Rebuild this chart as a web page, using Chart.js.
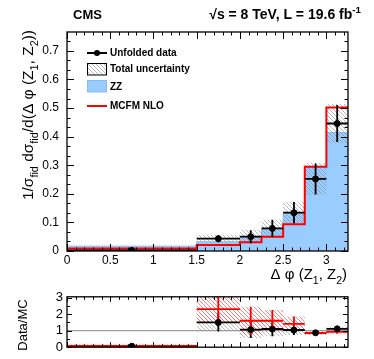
<!DOCTYPE html>
<html lang="en">
<head>
<meta charset="UTF-8" />
<title>CMS ZZ delta phi</title>
<script src="https://cdn.jsdelivr.net/npm/chart.js@4"></script>
<style>
  * { margin: 0; padding: 0; box-sizing: border-box; }
  body { background: #fff; width: 374px; height: 359px; position: relative; overflow: hidden; }
  #mainChart { position: absolute; left: 0; top: 0; }
  #ratioChart { position: absolute; left: 0; top: 285px; }
</style>
</head>
<body>
<canvas id="mainChart" width="374" height="285"></canvas>
<canvas id="ratioChart" width="374" height="74"></canvas>
<script>
// bins in delta phi(Z1,Z2)
const binEdges = [0, 1.5, 2.0, 2.25, 2.5, 2.75, 3.0, 3.25];

// main panel
const dataValues = [0.002, 0.043, 0.050, 0.079, 0.134, 0.252, 0.446];
const dataErrors = [0.001, 0.012, 0.023, 0.030, 0.037, 0.054, 0.065];
const totalUnc   = [0.002, 0.014, 0.024, 0.031, 0.038, 0.056, 0.068];
const zzValues   = [0.017, 0.032, 0.048, 0.076, 0.132, 0.295, 0.414];
const mcfmValues = [0.009, 0.021, 0.031, 0.050, 0.094, 0.295, 0.502];

// ratio panel
const ratioZZ       = [0.06, 1.50, 1.06, 1.10, 1.04, 0.87, 1.11];
const ratioZZErr    = [0.05, 0.55, 0.50, 0.44, 0.30, 0.10, 0.12];
const ratioMCFM     = [0.08, 2.30, 1.60, 1.60, 1.41, 0.86, 0.93];
const ratioMCFMErr  = [0.08, 0.80, 0.85, 0.65, 0.45, 0.10, 0.12];

const xTicks = [0, 0.5, 1, 1.5, 2, 2.5, 3];
const yTicks = [0, 0.1, 0.2, 0.3, 0.4, 0.5, 0.6, 0.7];
const ratioTicks = [0, 1, 2, 3];

const FONT = '"Liberation Sans", Arial, Helvetica, sans-serif';
Chart.defaults.font.family = FONT;
Chart.defaults.font.size = 12;
Chart.defaults.color = '#000';

// helpers
const centers = binEdges.slice(0, -1).map((e, i) => (e + binEdges[i + 1]) / 2);
function steps(vals) {
  const pts = [];
  vals.forEach((v, i) => { pts.push({ x: binEdges[i], y: v }, { x: binEdges[i + 1], y: v }); });
  return pts;
}
function hatch(color, width) {
  const c = document.createElement('canvas');
  c.width = c.height = 4;
  const g = c.getContext('2d');
  g.strokeStyle = color;
  g.lineWidth = width;
  g.beginPath();
  g.moveTo(-1, -1); g.lineTo(5, 5);
  g.moveTo(-1, 3); g.lineTo(1, 5);
  g.moveTo(3, -1); g.lineTo(5, 1);
  g.stroke();
  return g.createPattern(c, 'repeat');
}
const grayHatch = hatch('#8c8c8c', 0.6);
const redHatch = hatch('#ff5c5c', 0.75);

function rich(ctx, parts, x, y, size, weight, align) {
  let w = 0;
  for (const [t, m] of parts) {
    ctx.font = `${weight} ${m ? size * 0.7 : size}px ${FONT}`;
    w += ctx.measureText(t).width;
  }
  let cx = align === 'right' ? x - w : align === 'center' ? x - w / 2 : x;
  ctx.textAlign = 'left';
  ctx.textBaseline = 'alphabetic';
  for (const [t, m] of parts) {
    ctx.font = `${weight} ${m ? size * 0.7 : size}px ${FONT}`;
    const dy = m === -1 ? size * 0.3 : m === 1 ? -size * 0.42 : 0;
    ctx.fillText(t, cx, y + dy);
    cx += ctx.measureText(t).width;
  }
}

// frame with ROOT-like inward ticks
function frame(cfg) {
  return {
    id: 'frame',
    afterDraw(chart) {
      const { ctx, chartArea: a, scales } = chart;
      const xs = scales.x, ys = scales.y;
      ctx.save();
      ctx.strokeStyle = '#000';
      ctx.lineWidth = 1;
      ctx.beginPath();
      const tick = (v, len, isX) => {
        if (isX) {
          const px = Math.round(xs.getPixelForValue(v)) + 0.5;
          ctx.moveTo(px, a.bottom); ctx.lineTo(px, a.bottom - len);
          ctx.moveTo(px, a.top); ctx.lineTo(px, a.top + len);
        } else {
          const py = Math.round(ys.getPixelForValue(v)) + 0.5;
          ctx.moveTo(a.left, py); ctx.lineTo(a.left + len, py);
          ctx.moveTo(a.right, py); ctx.lineTo(a.right - len, py);
        }
      };
      for (let v = xs.min; v <= xs.max + 1e-9; v += cfg.xMinor) tick(v, cfg.minor, true);
      cfg.xMajor.forEach(v => tick(v, cfg.major, true));
      for (let v = ys.min; v <= ys.max + 1e-9; v += cfg.yMinor) tick(v, cfg.minor, false);
      cfg.yMajor.forEach(v => tick(v, cfg.major, false));
      ctx.stroke();
      ctx.lineWidth = 1.3;
      ctx.strokeRect(a.left, a.top, a.right - a.left, a.bottom - a.top);
      ctx.restore();
    }
  };
}

// error bars, drawn just before the marker dataset
function errorBars(sets, markerIndex) {
  return {
    id: 'errorBars',
    beforeDatasetDraw(chart, args) {
      if (args.index !== markerIndex) return;
      const { ctx, chartArea: a, scales: { x, y } } = chart;
      ctx.save();
      ctx.beginPath();
      ctx.rect(a.left, a.top, a.right - a.left, a.bottom - a.top);
      ctx.clip();
      for (const s of sets) {
        ctx.strokeStyle = s.color;
        ctx.lineWidth = 1.8;
        ctx.beginPath();
        s.values.forEach((v, i) => {
          const py = y.getPixelForValue(v);
          ctx.moveTo(x.getPixelForValue(binEdges[i]), py);
          ctx.lineTo(x.getPixelForValue(binEdges[i + 1]), py);
          const px = x.getPixelForValue(centers[i]);
          ctx.moveTo(px, y.getPixelForValue(v - s.errors[i]));
          ctx.lineTo(px, y.getPixelForValue(v + s.errors[i]));
        });
        ctx.stroke();
      }
      ctx.restore();
    }
  };
}

const mainTexts = {
  id: 'mainTexts',
  afterDraw(chart) {
    const ctx = chart.ctx;
    ctx.save();
    ctx.fillStyle = '#000';
    // header
    rich(ctx, [['CMS', 0]], 73, 19, 13, 'bold', 'left');
    rich(ctx, [['\u221As = 8 TeV, L = 19.6 fb', 0], ['-1', 1]], 361, 19, 14, 'bold', 'right');
    // x title
    rich(ctx, [['\u0394 \u03C6 (Z', 0], ['1', -1], [', Z', 0], ['2', -1], [')', 0]], 347, 279, 15, 'normal', 'right');
    // y title
    ctx.save();
    ctx.translate(33, 30);
    ctx.rotate(-Math.PI / 2);
    rich(ctx, [['1/\u03C3', 0], ['fid', -1], [' d\u03C3', 0], ['fid', -1], ['/d(\u0394 \u03C6 (Z', 0],
               ['1', -1], [', Z', 0], ['2', -1], ['))', 0]], 0, 0, 15.5, 'normal', 'right');
    ctx.restore();

    // legend
    ctx.font = `bold 10px ${FONT}`;
    ctx.textBaseline = 'middle';
    ctx.textAlign = 'left';
    ctx.strokeStyle = '#000';
    ctx.lineWidth = 2;
    ctx.beginPath(); ctx.moveTo(87, 53); ctx.lineTo(107, 53); ctx.stroke();
    ctx.beginPath(); ctx.arc(97, 53, 3, 0, Math.PI * 2); ctx.fill();
    ctx.fillText('Unfolded data', 110, 53);

    ctx.fillStyle = grayHatch;
    ctx.fillRect(87, 63.5, 19, 11.5);
    ctx.lineWidth = 1;
    ctx.strokeRect(87.5, 63.5, 19, 11.5);
    ctx.fillStyle = '#000';
    ctx.fillText('Total uncertainty', 110, 69.5);

    ctx.fillStyle = '#99ccff';
    ctx.fillRect(87, 80.5, 19, 11.5);
    ctx.strokeStyle = '#86bdf2';
    ctx.strokeRect(87.5, 80.5, 19, 11.5);
    ctx.fillStyle = '#000';
    ctx.fillText('ZZ', 110, 87);

    ctx.strokeStyle = '#ff0000';
    ctx.lineWidth = 2;
    ctx.beginPath(); ctx.moveTo(87, 106); ctx.lineTo(107, 106); ctx.stroke();
    ctx.fillText('MCFM NLO', 110, 106);
    ctx.restore();
  }
};

const noLine = 'rgba(0,0,0,0)';

new Chart(document.getElementById('mainChart'), {
  type: 'line',
  data: {
    datasets: [
      { data: centers.map((c, i) => ({ x: c, y: dataValues[i] })), showLine: false,
        pointRadius: 3, pointBackgroundColor: '#000', pointBorderColor: '#000', order: 0 },
      { data: steps(mcfmValues), borderColor: '#ff0000', borderWidth: 2, pointRadius: 0,
        fill: false, order: 1 },
      { data: steps(dataValues.map((v, i) => v + totalUnc[i])), borderColor: noLine, borderWidth: 1,
        pointRadius: 0, fill: '+1', backgroundColor: grayHatch, order: 2 },
      { data: steps(dataValues.map((v, i) => Math.max(0, v - totalUnc[i]))), borderColor: noLine,
        borderWidth: 1, pointRadius: 0, fill: false, order: 3 },
      { data: steps(zzValues), borderColor: '#86bdf2', borderWidth: 1, pointRadius: 0,
        fill: 'origin', backgroundColor: '#99ccff', order: 4 }
    ]
  },
  options: {
    responsive: false,
    animation: false,
    layout: { padding: { top: 32, right: 26, left: 0, bottom: 0 } },
    plugins: { legend: { display: false }, tooltip: { enabled: false } },
    elements: { line: { tension: 0 } },
    scales: {
      x: {
        type: 'linear', min: 0, max: 3.25,
        grid: { display: false, drawTicks: false }, border: { display: false },
        ticks: { padding: 2, maxRotation: 0, autoSkip: false, callback: v => String(v) },
        afterBuildTicks: s => { s.ticks = xTicks.map(v => ({ value: v })); },
        afterFit: s => { s.height = 34; }
      },
      y: {
        min: 0, max: 0.766,
        grid: { display: false, drawTicks: false }, border: { display: false },
        ticks: { padding: 8, autoSkip: false, callback: v => String(v) },
        afterBuildTicks: s => { s.ticks = yTicks.map(v => ({ value: v })); },
        afterFit: s => { s.width = 67; }
      }
    }
  },
  plugins: [
    frame({ xMinor: 0.1, xMajor: xTicks, yMinor: 0.1 / 3, yMajor: yTicks, major: 7, minor: 3.5 }),
    errorBars([{ values: dataValues, errors: dataErrors, color: '#000' }], 0),
    mainTexts
  ]
});

const ratioTexts = {
  id: 'ratioTexts',
  afterDraw(chart) {
    const ctx = chart.ctx;
    ctx.save();
    ctx.fillStyle = '#000';
    ctx.translate(27, 40);
    ctx.rotate(-Math.PI / 2);
    rich(ctx, [['Data/MC', 0]], 0, 0, 13, 'normal', 'center');
    ctx.restore();
  }
};

new Chart(document.getElementById('ratioChart'), {
  type: 'line',
  data: {
    datasets: [
      { data: centers.map((c, i) => ({ x: c, y: ratioZZ[i] })), showLine: false,
        pointRadius: 3, pointBackgroundColor: '#000', pointBorderColor: '#000', order: 0 },
      { data: [{ x: binEdges[0], y: 1 }, { x: binEdges[binEdges.length - 1], y: 1 }],
        borderColor: '#888', borderWidth: 1, pointRadius: 0, fill: false, order: 1 },
      { data: steps(ratioMCFM.map((v, i) => v + ratioMCFMErr[i])), borderColor: noLine, borderWidth: 1,
        pointRadius: 0, fill: '+1', backgroundColor: redHatch, order: 2 },
      { data: steps(ratioMCFM.map((v, i) => Math.max(0, v - ratioMCFMErr[i]))), borderColor: noLine,
        borderWidth: 1, pointRadius: 0, fill: false, order: 3 },
      { data: steps(ratioZZ.map((v, i) => v + ratioZZErr[i])), borderColor: noLine, borderWidth: 1,
        pointRadius: 0, fill: '+1', backgroundColor: grayHatch, order: 4 },
      { data: steps(ratioZZ.map((v, i) => Math.max(0, v - ratioZZErr[i]))), borderColor: noLine,
        borderWidth: 1, pointRadius: 0, fill: false, order: 5 }
    ]
  },
  options: {
    responsive: false,
    animation: false,
    layout: { padding: { top: 7, right: 26, left: 0, bottom: 9 } },
    plugins: { legend: { display: false }, tooltip: { enabled: false } },
    elements: { line: { tension: 0 } },
    scales: {
      x: { type: 'linear', min: 0, max: 3.25, display: false },
      y: {
        min: 0, max: 3.05,
        grid: { display: false, drawTicks: false }, border: { display: false },
        ticks: { padding: 4, autoSkip: false, font: { size: 13 }, callback: v => String(v) },
        afterBuildTicks: s => { s.ticks = ratioTicks.map(v => ({ value: v })); },
        afterFit: s => { s.width = 67; }
      }
    }
  },
  plugins: [
    frame({ xMinor: 0.1, xMajor: xTicks, yMinor: 0.5, yMajor: ratioTicks, major: 5, minor: 3 }),
    errorBars([
      { values: ratioZZ, errors: ratioZZErr, color: '#000' },
      { values: ratioMCFM, errors: ratioMCFMErr, color: '#ff0000' }
    ], 0),
    ratioTexts
  ]
});
</script>
</body>
</html>
